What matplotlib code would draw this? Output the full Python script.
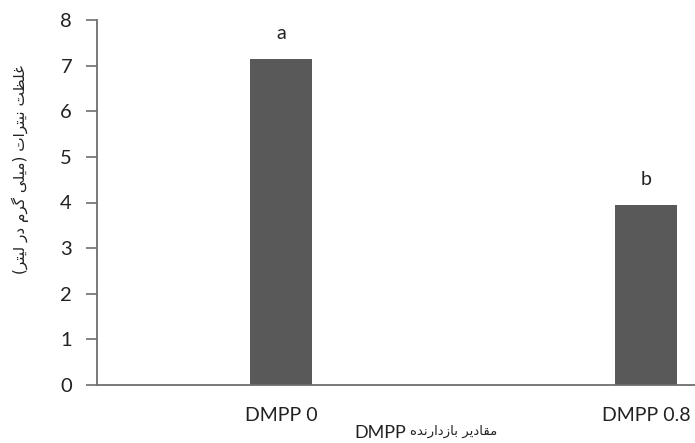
import matplotlib
matplotlib.use('Agg')
import matplotlib.pyplot as plt

# data
categories = ['DMPP 0', 'DMPP 0.8']
nitrate = [7.15, 3.95]
letters = ['a', 'b']
yticks = [0, 1, 2, 3, 4, 5, 6, 7, 8]
ylabel_fa = 'غلظت نیترات (میلی گرم در لیتر)'
xlabel_fa = 'مقادیر بازدارنده'

# minimal persian shaping (matplotlib does no joining / bidi)
FORMS = {
    'ا': ('\uFE8D', '\uFE8E', None, None),
    'ب': ('\uFE8F', '\uFE90', '\uFE91', '\uFE92'),
    'ت': ('\uFE95', '\uFE96', '\uFE97', '\uFE98'),
    'د': ('\uFEA9', '\uFEAA', None, None),
    'ر': ('\uFEAD', '\uFEAE', None, None),
    'ز': ('\uFEAF', '\uFEB0', None, None),
    'ظ': ('\uFEC5', '\uFEC6', '\uFEC7', '\uFEC8'),
    'غ': ('\uFECD', '\uFECE', '\uFECF', '\uFED0'),
    'ق': ('\uFED5', '\uFED6', '\uFED7', '\uFED8'),
    'ل': ('\uFEDD', '\uFEDE', '\uFEDF', '\uFEE0'),
    'م': ('\uFEE1', '\uFEE2', '\uFEE3', '\uFEE4'),
    'ن': ('\uFEE5', '\uFEE6', '\uFEE7', '\uFEE8'),
    'ه': ('\uFEE9', '\uFEEA', '\uFEEB', '\uFEEC'),
    'ی': ('\uFBFC', '\uFBFD', '\uFBFE', '\uFBFF'),
    'گ': ('\uFB92', '\uFB93', '\uFB94', '\uFB95'),
}


def fa(s):
    out = []
    for i, c in enumerate(s):
        if c not in FORMS:
            out.append(c)
            continue
        prev = s[i - 1] if i > 0 else ''
        nxt = s[i + 1] if i + 1 < len(s) else ''
        jp = prev in FORMS and FORMS[prev][2] is not None
        jn = nxt in FORMS and FORMS[c][2] is not None
        iso, fin, ini, med = FORMS[c]
        if jp and jn:
            out.append(med)
        elif jp:
            out.append(fin)
        elif jn:
            out.append(ini)
        else:
            out.append(iso)
    swap = {'(': ')', ')': '('}
    return ''.join(swap.get(c, c) for c in reversed(out))


plt.rcParams['font.family'] = ['Lato', 'DejaVu Sans']

W, H = 695, 443
fig = plt.figure(figsize=(W / 100, H / 100), dpi=100)
ax = fig.add_axes([97 / W, 1 - 385 / H, 1 - 97 / W, (385 - 20) / H])

x = list(range(len(categories)))
ax.bar(x, nitrate, width=0.17, color='#595959', zorder=2)
for xi, v, l in zip(x, nitrate, letters):
    ax.annotate(l, (xi, v), xytext=(0, 18), textcoords='offset points',
                ha='center', va='center', fontsize=14, color='#222222')

ax.set_xlim(-0.504, 1.134)
ax.set_ylim(0, 8)
ax.set_yticks(yticks)
ax.set_xticks(x)
ax.set_xticklabels(categories)

for s in ['top', 'right']:
    ax.spines[s].set_visible(False)
for s in ['left', 'bottom']:
    ax.spines[s].set_color('#6e6e6e')
    ax.spines[s].set_linewidth(1.3)

ax.tick_params(axis='y', length=8, width=1.2, color='#6e6e6e', pad=10,
               labelsize=14.5, labelcolor='#222222')
ax.tick_params(axis='x', length=0, pad=16, labelsize=14, labelcolor='#222222')

fig.text(20 / W, 1 - 170 / H, fa(ylabel_fa), rotation=90, ha='center', va='center',
         fontsize=11, color='#222222', family=['DejaVu Sans'])
# x axis title: latin part + persian part
fig.text(406 / W, 1 - 433 / H, 'DMPP', ha='right', va='center',
         fontsize=13, color='#222222')
fig.text(410 / W, 1 - 431 / H, fa(xlabel_fa), ha='left', va='center',
         fontsize=9.5, color='#222222', family=['DejaVu Sans'])

fig.savefig('out.png', dpi=100)
